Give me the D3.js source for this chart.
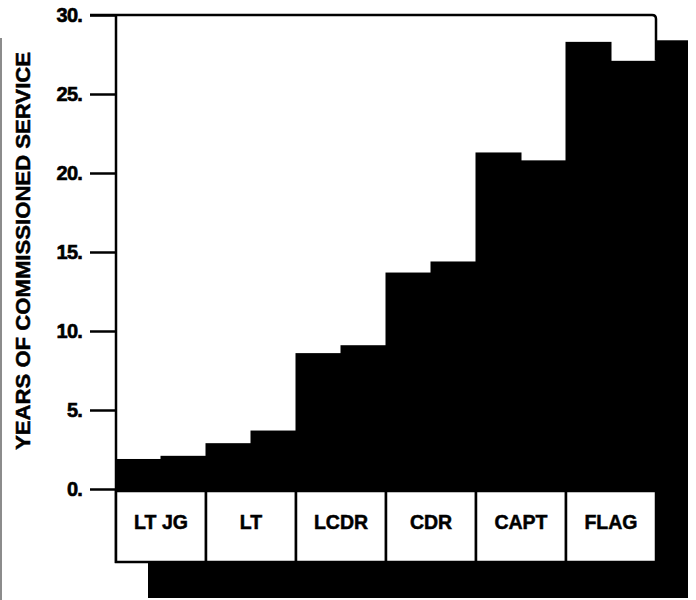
<!DOCTYPE html>
<html>
<head>
<meta charset="utf-8">
<script src="https://cdn.jsdelivr.net/npm/d3@7"></script>
<style>
  html, body { margin: 0; padding: 0; background: #fff; }
  svg { display: block; }
  text { font-family: "Liberation Sans", Arial, Helvetica, sans-serif; font-weight: bold; fill: #000; }
</style>
</head>
<body>
<svg id="chart" width="696" height="600"></svg>
<script>
// ---- data ----
const categories = ["LT JG", "LT", "LCDR", "CDR", "CAPT", "FLAG"];
const firstBarValues  = [1.9, 2.9, 8.6, 13.7, 21.3, 28.3];
const secondBarValues = [2.1, 3.7, 9.1, 14.4, 20.8, 27.1];
const sideValue = 28.4;           // visible depth/side face at the right edge
const yTicks = [0, 5, 10, 15, 20, 25, 30];
const yTitle = "YEARS OF COMMISSIONED SERVICE";

(function () {
// ---- layout ----
const svg = d3.select("#chart");
const plotLeft = 116, plotRight = 656, plotTop = 15, zeroY = 489;
const boxTop = 491, boxBottom = 562, shadowBottom = 598, sideRight = 688, shadowLeft = 148;

const y = d3.scaleLinear().domain([0, 30]).range([zeroY, plotTop]);
const xCat = d3.scaleBand().domain(categories).range([plotLeft, plotRight]).paddingInner(0).paddingOuter(0);
const bars = [];
categories.forEach((c, i) => {
  bars.push({ id: c + "-a", value: firstBarValues[i] });
  bars.push({ id: c + "-b", value: secondBarValues[i] });
});
const xBar = d3.scaleBand().domain(bars.map(d => d.id)).range([plotLeft, plotRight]).padding(0);

// left edge scan line
svg.append("line").attr("x1", 1).attr("x2", 1).attr("y1", 38).attr("y2", 600)
  .attr("stroke", "#666").attr("stroke-width", 1.5);

// shadow block under label row and right side face
svg.append("rect")
  .attr("x", shadowLeft).attr("y", boxBottom)
  .attr("width", sideRight - shadowLeft).attr("height", shadowBottom - boxBottom)
  .attr("fill", "#000");
svg.append("rect")
  .attr("x", plotRight).attr("y", y(sideValue))
  .attr("width", sideRight - plotRight).attr("height", shadowBottom - y(sideValue))
  .attr("fill", "#000");

// bars
svg.append("g").selectAll("rect").data(bars).join("rect")
  .attr("x", d => xBar(d.id) - 0.5)
  .attr("y", d => y(d.value))
  .attr("width", xBar.bandwidth() + 1)
  .attr("height", d => boxTop - y(d.value))
  .attr("fill", "#000");

// frame: top line + right edge down to last bar
const lastVal = secondBarValues[secondBarValues.length - 1];
svg.append("path")
  .attr("d", `M90,${plotTop} H${plotRight - 4} Q${plotRight},${plotTop} ${plotRight},${plotTop + 4} V${y(lastVal)}`)
  .attr("fill", "none").attr("stroke", "#000").attr("stroke-width", 2.5);

// y axis
const axis = d3.axisLeft(y).tickValues(yTicks).tickFormat(d => d + ".")
  .tickSize(26).tickPadding(8).tickSizeOuter(0);
const gAxis = svg.append("g").attr("transform", `translate(${plotLeft},0)`).call(axis);
gAxis.select(".domain").remove();
gAxis.selectAll(".tick line").attr("stroke", "#000").attr("stroke-width", 2.5);
gAxis.selectAll(".tick text")
  .attr("font-size", 20).attr("font-weight", "bold").attr("fill", "#000")
  .attr("stroke", "#000").attr("stroke-width", 0.6)
  .style("font-family", "'Liberation Sans', Arial, sans-serif")
  .attr("letter-spacing", -0.8);
svg.append("line").attr("x1", plotLeft).attr("x2", plotLeft).attr("y1", plotTop - 1).attr("y2", boxBottom + 1)
  .attr("stroke", "#000").attr("stroke-width", 2.5);

// label boxes
const gBox = svg.append("g");
gBox.selectAll("rect").data(categories).join("rect")
  .attr("x", d => xCat(d)).attr("y", boxTop)
  .attr("width", xCat.bandwidth()).attr("height", boxBottom - boxTop)
  .attr("fill", "#fff").attr("stroke", "#000").attr("stroke-width", 2.5);
gBox.selectAll("text").data(categories).join("text")
  .attr("x", d => xCat(d) + xCat.bandwidth() / 2)
  .attr("y", (boxTop + boxBottom) / 2 - 4)
  .attr("dy", "0.35em")
  .attr("text-anchor", "middle")
  .attr("font-size", 19.5)
  .attr("stroke", "#000").attr("stroke-width", 0.5)
  .text(d => d);

// y axis title
svg.append("text")
  .attr("transform", `translate(30,${(52 + 450) / 2}) rotate(-90)`)
  .attr("text-anchor", "middle")
  .attr("font-size", 21)
  .attr("stroke", "#000").attr("stroke-width", 0.5)
  .attr("textLength", 398)
  .attr("lengthAdjust", "spacingAndGlyphs")
  .text(yTitle);
})();
</script>
</body>
</html>
